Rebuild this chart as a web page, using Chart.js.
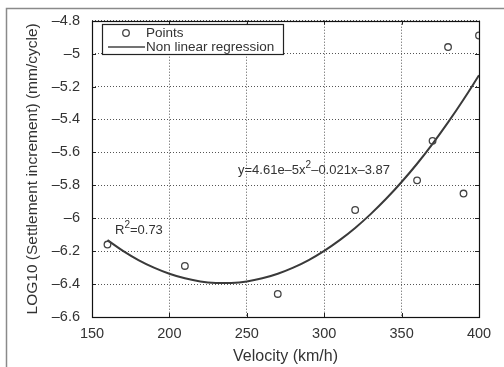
<!DOCTYPE html>
<html>
<head>
<meta charset="utf-8">
<script src="https://cdn.jsdelivr.net/npm/chart.js@4/dist/chart.umd.min.js"></script>
<style>
  html, body { margin: 0; padding: 0; background: #fff; }
  #wrap { width: 504px; height: 367px; position: relative; }
</style>
</head>
<body>
<div id="wrap"><canvas id="canvas" width="504" height="367"></canvas></div>
<script>
// measured points (velocity km/h, log10 settlement increment)
var velocity = [160, 210, 270, 320, 360, 370, 380, 390, 400];
var logIncrement = [-6.16, -6.29, -6.46, -5.95, -5.77, -5.53, -4.96, -5.85, -4.89];

// regression curve
var curveVelocity = [160, 170, 180, 190, 200, 210, 220, 230, 240, 250, 260, 270, 280,
  290, 300, 310, 320, 330, 340, 350, 360, 370, 380, 390, 400];
var curveLog = [-6.133, -6.198, -6.254, -6.300, -6.337, -6.365, -6.384, -6.393, -6.393, -6.384,
  -6.365, -6.337, -6.300, -6.254, -6.198, -6.133, -6.059, -5.975, -5.882, -5.780, -5.669,
  -5.548, -5.418, -5.279, -5.131];

// tick labels
var xTickLabels = ['150', '200', '250', '300', '350', '400'];
var yTickLabels = ['\u20136.6', '\u20136.4', '\u20136.2', '\u20136', '\u20135.8', '\u20135.6',
  '\u20135.4', '\u20135.2', '\u20135', '\u20134.8'];

var textColor = '#333';
var fontFamily = '"Liberation Sans", Arial, sans-serif';

function pairs(xs, ys) {
  return xs.map(function (x, i) { return { x: x, y: ys[i] }; });
}

// frame, plot box, inner ticks, legend box and text notes
var decorPlugin = {
  id: 'decor',
  beforeDraw: function (chart) {
    var ctx = chart.ctx;
    ctx.save();
    ctx.fillStyle = '#fff';
    ctx.fillRect(0, 0, chart.width, chart.height);
    ctx.strokeStyle = '#8a8a8a';
    ctx.lineWidth = 1.5;
    ctx.beginPath();
    ctx.moveTo(6.5, chart.height);
    ctx.lineTo(6.5, 8.5);
    ctx.lineTo(chart.width, 8.5);
    ctx.stroke();
    ctx.restore();
  },
  afterDraw: function (chart) {
    var ctx = chart.ctx;
    var a = chart.chartArea;
    var xs = chart.scales.x, ys = chart.scales.y;
    ctx.save();

    // inner tick marks
    ctx.strokeStyle = '#222';
    ctx.lineWidth = 1;
    ctx.beginPath();
    xs.ticks.forEach(function (t) {
      var px = Math.round(xs.getPixelForValue(t.value)) + 0.5;
      ctx.moveTo(px, a.top); ctx.lineTo(px, a.top + 4);
      ctx.moveTo(px, a.bottom); ctx.lineTo(px, a.bottom - 4);
    });
    ys.ticks.forEach(function (t) {
      var py = Math.round(ys.getPixelForValue(t.value)) + 0.5;
      ctx.moveTo(a.left, py); ctx.lineTo(a.left + 4, py);
      ctx.moveTo(a.right, py); ctx.lineTo(a.right - 4, py);
    });
    ctx.stroke();

    // plot box
    ctx.strokeStyle = '#111';
    ctx.lineWidth = 1.2;
    ctx.strokeRect(Math.round(a.left) + 0.5, Math.round(a.top) + 0.5,
      Math.round(a.right - a.left), Math.round(a.bottom - a.top));

    // legend
    ctx.fillStyle = '#fff';
    ctx.fillRect(102, 24, 181, 30);
    ctx.strokeStyle = '#222';
    ctx.lineWidth = 1.2;
    ctx.strokeRect(102.5, 24.5, 181, 30);
    ctx.strokeStyle = '#444';
    ctx.lineWidth = 1.3;
    ctx.beginPath();
    ctx.arc(126, 33, 3.3, 0, Math.PI * 2);
    ctx.stroke();
    ctx.lineWidth = 1.6;
    ctx.beginPath();
    ctx.moveTo(108, 47); ctx.lineTo(145, 47);
    ctx.stroke();
    ctx.fillStyle = textColor;
    ctx.font = '13.5px ' + fontFamily;
    ctx.textBaseline = 'middle';
    ctx.textAlign = 'left';
    ctx.fillText('Points', 146, 33);
    ctx.fillText('Non linear regression', 146, 47);

    // equation note with superscript
    var x = 238, y = 170;
    [['y=4.61e\u20135x', 0], ['2', 1], ['\u20130.021x\u20133.87', 0]].forEach(function (p) {
      ctx.font = (p[1] ? '10px ' : '13px ') + fontFamily;
      ctx.fillText(p[0], x, p[1] ? y - 5 : y);
      x += ctx.measureText(p[0]).width;
    });

    // R squared note
    x = 115; y = 230;
    [['R', 0], ['2', 1], ['=0.73', 0]].forEach(function (p) {
      ctx.font = (p[1] ? '10px ' : '13px ') + fontFamily;
      ctx.fillText(p[0], x, p[1] ? y - 5 : y);
      x += ctx.measureText(p[0]).width;
    });

    ctx.restore();
  }
};

var ctx = document.getElementById('canvas').getContext('2d');
var chart = new Chart(ctx, {
  type: 'scatter',
  data: {
    datasets: [{
      label: 'Points',
      data: pairs(velocity, logIncrement),
      showLine: false,
      pointStyle: 'circle',
      pointRadius: 3.3,
      pointBorderWidth: 1.3,
      borderColor: '#444',
      backgroundColor: 'rgba(0,0,0,0)',
      order: 1
    }, {
      label: 'Non linear regression',
      data: pairs(curveVelocity, curveLog),
      showLine: true,
      pointRadius: 0,
      borderColor: '#3a3a3a',
      borderWidth: 2,
      tension: 0.4,
      fill: false,
      order: 2
    }]
  },
  options: {
    responsive: false,
    animation: false,
    layout: { padding: { left: 0, top: 17, right: 25, bottom: 0 } },
    plugins: {
      legend: { display: false },
      tooltip: { enabled: false }
    },
    scales: {
      x: {
        type: 'linear',
        min: 150,
        max: 400,
        afterFit: function (s) { s.height = 50; },
        ticks: {
          stepSize: 50,
          padding: 8,
          color: textColor,
          font: { family: fontFamily, size: 14.5 },
          callback: function (v, i) { return xTickLabels[i]; }
        },
        grid: { color: '#555', lineWidth: 1, drawTicks: false, tickLength: 0 },
        border: { display: false, dash: [1, 2] },
        title: {
          display: true,
          text: 'Velocity (km/h)',
          color: textColor,
          font: { family: fontFamily, size: 16 },
          padding: { top: 0, bottom: 1 }
        }
      },
      y: {
        type: 'linear',
        min: -6.6,
        max: -4.8,
        afterFit: function (s) { s.width = 92; },
        ticks: {
          stepSize: 0.2,
          padding: 12,
          color: textColor,
          font: { family: fontFamily, size: 14.5 },
          callback: function (v, i) { return yTickLabels[i]; }
        },
        grid: { color: '#555', lineWidth: 1, drawTicks: false, tickLength: 0 },
        border: { display: false, dash: [1, 2] },
        title: {
          display: true,
          text: 'LOG10 (Settlement increment) (mm/cycle)',
          color: textColor,
          font: { family: fontFamily, size: 15.5 },
          padding: { top: 23, bottom: 0 }
        }
      }
    }
  },
  plugins: [decorPlugin]
});
</script>
</body>
</html>
